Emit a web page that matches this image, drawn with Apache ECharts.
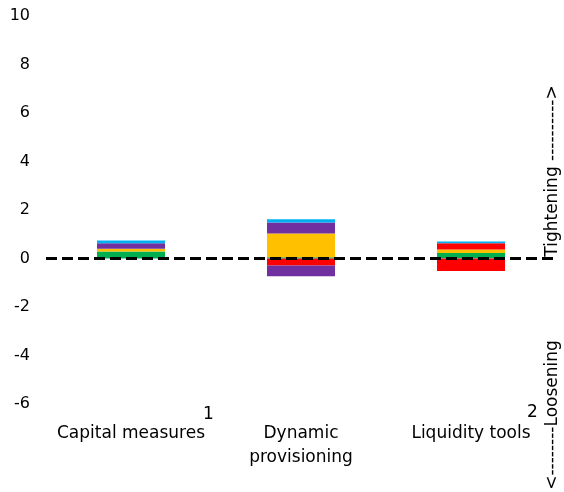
<!DOCTYPE html>
<html>
<head>
<meta charset="utf-8">
<script src="https://cdn.jsdelivr.net/npm/echarts@6/dist/echarts.min.js"></script>
<style>html,body{margin:0;padding:0;background:#fff}#c{width:564px;height:492px}</style>
</head>
<body>
<div id="c"></div>
<script>
var categories = ['Capital measures', 'Dynamic\nprovisioning', 'Liquidity tools'];
var yTicks = [-6, -4, -2, 0, 2, 4, 6, 8, 10];
var greenVals = [0.29, 0.05, 0.23];
var orangeVals = [0.11, 0.98, 0.14];
var redTight = [0, 0, 0.26];
var purpleTight = [0.23, 0.45, 0];
var cyanVals = [0.11, 0.14, 0.07];
var redLoose = [0, -0.29, -0.52];
var purpleLoose = [0, -0.44, 0];

var FONT = 'DejaVu Sans';
function bar(name, data, color, extra) {
  var s = { name: name, type: 'bar', stack: 'all', data: data, barWidth: '40%',
    itemStyle: { color: color }, silent: true, z: 2 };
  if (extra) for (var k in extra) s[k] = extra[k];
  return s;
}
var chart = echarts.init(document.getElementById('c'), null, { renderer: 'canvas' });
chart.setOption({
  animation: false,
  textStyle: { fontFamily: FONT },
  grid: { left: 46, right: 8, top: 16, bottom: 88 },
  xAxis: {
    type: 'category', data: categories,
    axisLine: { show: false }, axisTick: { show: false },
    axisLabel: { fontFamily: FONT, fontSize: 17, color: '#000', margin: 18, lineHeight: 24, interval: 0 }
  },
  yAxis: {
    type: 'value', min: yTicks[0], max: yTicks[yTicks.length - 1], interval: 2,
    axisLine: { show: false }, axisTick: { show: false }, splitLine: { show: false },
    axisLabel: { fontFamily: FONT, fontSize: 16, color: '#000', margin: 16 }
  },
  series: [
    bar('green', greenVals, '#00B050', {
      markLine: { silent: true, symbol: 'none', label: { show: false }, z: 10,
        lineStyle: { color: '#000', width: 3, type: [11, 5] }, data: [{ yAxis: 0 }] }
    }),
    bar('orange', orangeVals, '#FFC000'),
    bar('red', redTight, '#FF0000'),
    bar('purple', purpleTight, '#7030A0'),
    bar('cyan', cyanVals, '#00B0F0'),
    bar('red loosening', redLoose, '#FF0000'),
    bar('purple loosening', purpleLoose, '#7030A0')
  ],
  graphic: [
    { type: 'text', left: 203, top: 406, style: { text: '1', font: '17px "DejaVu Sans"', fill: '#000' } },
    { type: 'text', left: 527, top: 404, style: { text: '2', font: '17px "DejaVu Sans"', fill: '#000' } },
    { type: 'text', x: 553, y: 171, rotation: Math.PI / 2,
      style: { text: 'Tightening ---------->', font: '17px "DejaVu Sans"', fill: '#000', align: 'center', verticalAlign: 'middle' } },
    { type: 'text', x: 553, y: 415, rotation: Math.PI / 2,
      style: { text: '<--------Loosening', font: '17px "DejaVu Sans"', fill: '#000', align: 'center', verticalAlign: 'middle' } }
  ]
});
</script>
</body>
</html>
